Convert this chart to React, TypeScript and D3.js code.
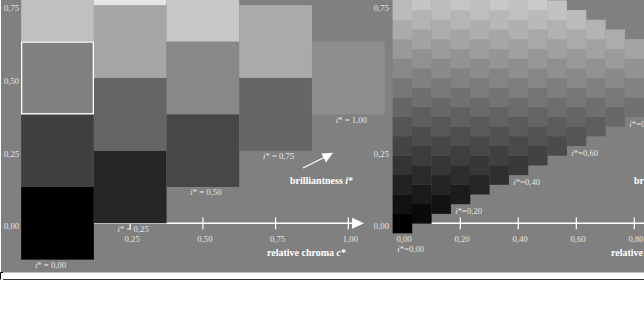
import React from 'react';
import * as d3 from 'd3';

// left panel: 5 chroma columns, squares centred on (c*, t*)
const leftChroma = [0, 0.25, 0.5, 0.75, 1];
const leftLightness = [
  [0, 0.25, 0.5, 0.75, 1],
  [0.125, 0.375, 0.625, 0.875],
  [0.25, 0.5, 0.75],
  [0.375, 0.625],
  [0.5],
];
const leftGrey = [
  [0, 64, 128, 192, 255],
  [38, 100, 166, 230],
  [71, 136, 200],
  [102, 170],
  [142],
];
const leftBrilliance = ['0,00', '0,25', '0,50', '0,75', '1,00'];
const leftTicks = [0.25, 0.5, 0.75, 1];
const leftTickLabels = ['0,25', '0,50', '0,75', '1,00'];

const yTicks = [0, 0.25, 0.5, 0.75];
const yTickLabels = ['0,00', '0,25', '0,50', '0,75'];
const rightYTicks = [0, 0.25, 0.75];
const rightYTickLabels = ['0,00', '0,25', '0,75'];

// right panel: 15 steps in c* and t*
const fineSteps = 15;
const rightTicks = [0, 0.2, 0.4, 0.6, 0.8];
const rightTickLabels = ['0,00', '0,20', '0,40', '0,60', '0,80'];
const rightBrilliance = [0, 0.2, 0.4, 0.6, 0.8];
const rightBrillianceLabels = ['0,00', '0,20', '0,40', '0,60', '0,80'];

const W = 644;
const H = 309;
const FONT = "'Liberation Serif', 'Times New Roman', serif";
const LABEL = '#e4e4e4';

const App: React.FC = () => {
  const y = d3.scaleLinear().domain([0, 1]).range([223.3, 223.3 - 290.8]);
  const xl = d3.scaleLinear().domain([0, 1]).range([57.5, 57.5 + 290.8]);
  const xr = d3.scaleLinear().domain([0, 1]).range([402.3, 402.3 + 290]);
  const greyOf = d3.scaleLinear().domain([0, 1]).range([0, 255]).clamp(true);

  const big = xl(0.25) - xl(0);
  const bigH = y(0) - y(0.25);
  const smallW = xr(1 / fineSteps) - xr(0);
  const smallH = y(0) - y(1 / fineSteps);

  // fine lattice for right panel
  const cells: { c: number; t: number }[] = [];
  d3.range(fineSteps + 1).forEach((k) => {
    const c = k / fineSteps;
    d3.range(fineSteps + 1 - k).forEach((j) => {
      cells.push({ c, t: c / 2 + j / fineSteps });
    });
  });

  const g = (v: number) => {
    const n = Math.round(Math.max(0, Math.min(255, v)));
    return d3.rgb(n, n, n).formatHex();
  };

  const iLabel = (txt: string, sep: string) => (
    <>
      <tspan fontStyle="italic">i</tspan>
      {'*' + sep + txt}
    </>
  );

  return (
    <svg
      width={W}
      height={H}
      style={{ position: 'absolute', left: 0, top: 0, background: '#fff' }}
      fontFamily={FONT}
    >
      <rect x={1} y={0} width={W - 1} height={272.5} fill="#808080" />
      <line x1={3} x2={W} y1={279.5} y2={279.5} stroke="#333" strokeWidth={1} />
      <path d="M0.5,279.5 V272.5 H3" fill="none" stroke="#000" strokeWidth={1} />

      {/* y tick labels */}
      {yTicks.map((t, i) => (
        <text key={'yl' + i} x={4} y={y(t) + 6} fontSize={8.7} fill={LABEL}>
          {yTickLabels[i]}
        </text>
      ))}
      {rightYTicks.map((t, i) => (
        <text key={'yr' + i} x={389} y={y(t) + 6} fontSize={8.7} fill={LABEL} textAnchor="end">
          {rightYTickLabels[i]}
        </text>
      ))}

      {/* left x axis */}
      <line x1={xl(0.125)} x2={352} y1={y(0)} y2={y(0)} stroke="#fff" strokeWidth={1.5} />
      <path d={`M352,${y(0) - 5.5} L364,${y(0)} L352,${y(0) + 5.5} Z`} fill="#fff" />
      {leftTicks.map((c, i) => (
        <g key={'lt' + i}>
          <line x1={xl(c)} x2={xl(c)} y1={y(0) - 6} y2={y(0) + 6} stroke="#fff" strokeWidth={1.2} />
          <text x={xl(c) + 2} y={241.5} fontSize={8.7} fill={LABEL} textAnchor="middle">
            {leftTickLabels[i]}
          </text>
        </g>
      ))}

      {/* left squares */}
      {leftChroma.map((c, i) =>
        leftLightness[i].map((t, j) => (
          <rect
            key={`s${i}-${j}`}
            x={xl(c) - big / 2}
            y={y(t) - bigH / 2}
            width={big}
            height={bigH}
            fill={g(leftGrey[i][j])}
          />
        )),
      )}
      <rect
        x={xl(0) - big / 2 + 0.5}
        y={y(0.5) - bigH / 2 + 0.5}
        width={big - 1}
        height={bigH - 1}
        fill="none"
        stroke="#fff"
        strokeWidth={1.3}
      />
      {leftChroma.map((c, i) => (
        <text
          key={'lb' + i}
          x={xl(c) + (i === 0 ? -7 : 3)}
          y={y(c / 2 - 0.125) + 8.5}
          fontSize={8.7}
          fill={LABEL}
          textAnchor="middle"
        >
          {iLabel(leftBrilliance[i], ' = ')}
        </text>
      ))}

      <text x={xl(0) + 232.5} y={183.5} fontSize={10} fontWeight="bold" fill="#fff">
        brilliantness <tspan fontStyle="italic">i</tspan>*
      </text>
      <line x1={303} y1={168} x2={325} y2={157} stroke="#fff" strokeWidth={1.3} />
      <path d="M333,152.7 L321.5,153.6 L326,162.5 Z" fill="#fff" />
      <text x={xl(0) + 209.5} y={255.5} fontSize={10} fontWeight="bold" fill="#fff">
        relative chroma <tspan fontStyle="italic">c</tspan>*
      </text>

      {/* right x axis */}
      <line x1={xr(0.1)} x2={W} y1={y(0)} y2={y(0)} stroke="#fff" strokeWidth={1.5} />
      {rightTicks.map((c, i) => (
        <g key={'rt' + i}>
          {c > 0 && (
            <line x1={xr(c)} x2={xr(c)} y1={y(0) - 6} y2={y(0) + 6} stroke="#fff" strokeWidth={1.2} />
          )}
          <text x={xr(c) + 1.7} y={241.5} fontSize={8.7} fill={LABEL} textAnchor="middle">
            {rightTickLabels[i]}
          </text>
        </g>
      ))}

      {/* right squares */}
      {cells.map((d, i) => (
        <rect
          key={'f' + i}
          x={xr(d.c) - smallW / 2}
          y={y(d.t) - smallH / 2}
          width={smallW + 0.3}
          height={smallH + 0.3}
          fill={g(greyOf(d.t) + 14 * d.c)}
        />
      ))}
      {rightBrilliance.map((v, i) => (
        <text
          key={'rb' + i}
          x={xr(v) - 5}
          y={y(v / 2 - 1 / 30) + (v === 0 ? 19 : 10.5)}
          fontSize={8.7}
          fill={LABEL}
        >
          {iLabel(rightBrillianceLabels[i], '=')}
        </text>
      ))}
      <text x={xr(0) + 231.7} y={183.5} fontSize={10} fontWeight="bold" fill="#fff">
        brilliantness <tspan fontStyle="italic">i</tspan>*
      </text>
      <text x={xr(0) + 208.7} y={255.5} fontSize={10} fontWeight="bold" fill="#fff">
        relative chroma <tspan fontStyle="italic">c</tspan>*
      </text>
    </svg>
  );
};

export default App;
